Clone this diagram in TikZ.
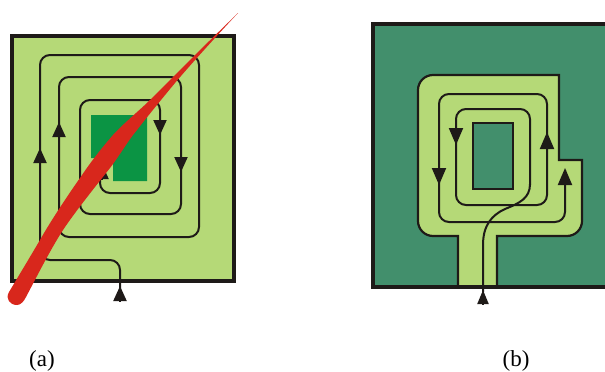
\documentclass[tikz,border=0pt]{standalone}
\usepackage{fontspec}
\setmainfont{Liberation Serif}
\usetikzlibrary{arrows.meta}
\definecolor{leaf}{HTML}{B5D977}
\definecolor{patch}{HTML}{0B9444}
\definecolor{pine}{HTML}{428F6C}
\definecolor{blade}{HTML}{D8271C}
\definecolor{ink}{HTML}{1E1A18}

\begin{document}
\begin{tikzpicture}[x=1pt, y=-1pt,
        board/.style = {draw=ink, line width=3.5pt, miter limit=10},
        trace/.style = {draw=ink, line width=2pt, rounded corners=10pt},
        flow/.style = {draw=ink, line width=2pt, -{Triangle[length=15pt, width=13pt]}},
        bigflow/.style = {draw=ink, line width=2pt, -{Triangle[length=17pt, width=14pt]}},
        caption/.style = {font=\fontsize{23}{27}\selectfont, text=black, anchor=base, inner sep=0pt}]
            \useasboundingbox (0,0) rectangle (605,372);
            \clip (0,0) rectangle (605,372);

            % panel a
            \path[board, fill=leaf] (12,36) rectangle (234,281);
            \fill[patch] (91,115) -- (147,115) -- (147,181) -- (113,181) -- (113,158) -- (91,158) -- cycle;
            \path[trace] (120,290) -- (120,260) -- (40,260) -- (40,55) -- (199,55) -- (199,237) -- (59,237)
                -- (59,77) -- (181,77) -- (181,214) -- (80,214) -- (80,100) -- (160,100) -- (160,193)
                -- (100,193) -- (100,172);
            \foreach \x/\from/\to in {40/163/148, 59/137/122, 181/157/172, 160/120/135, 102/179/164}
                \draw[flow] (\x,\from) -- (\x,\to);
            \draw[flow] (120,301) -- (120,286);
            \fill[blade] (238,13) -- (200,50) .. controls (185,65) and (165,85) .. (150,100)
                .. controls (140,110) and (125,122) .. (113,135)
                .. controls (100,150) and (90,163) .. (80,178)
                .. controls (70,192) and (50,222) .. (40,240)
                .. controls (30,257) and (18,277) .. (9,292)
                .. controls (5,299) and (10,305) .. (17,305)
                .. controls (21,305) and (24,301) .. (26,297)
                .. controls (34,282) and (50,250) .. (63,230)
                .. controls (75,212) and (95,187) .. (110,168)
                .. controls (120,155) and (127,142) .. (137,130)
                .. controls (143,122) and (165,95) .. (175,83)
                .. controls (185,71) and (210,43) .. (238,13) -- cycle;

            % panel b
            \path[board, fill=pine] (373,24) rectangle (615,287);
            \path[draw=ink, line width=2.2pt, fill=leaf] (458,287) -- (458,236) [rounded corners=15pt] -- (418,236)
                -- (418,75) [sharp corners] -- (559,75) -- (559,160) -- (582,160)
                [rounded corners=15pt] -- (582,236) [sharp corners] -- (497,236) -- (497,287) -- cycle;
            \path[draw=ink, line width=2.2pt, fill=pine] (473,123) rectangle (513,189);
            \draw[board] (373,287) -- (615,287);
            \path[trace] (565,170) -- (565,222) -- (439,222) -- (439,94) -- (547,94) -- (547,205) -- (456,205)
                -- (456,109) -- (530,109) -- (530,185);
            \draw[ink, line width=2pt] (530,184) .. controls (530,198) and (520,203) .. (505,209)
                .. controls (492,215) and (483,225) .. (483,245) -- (483,292);
            \foreach \x/\from/\to in {456/127/145, 439/168/185, 547/149/132, 565/186/168}
                \draw[bigflow] (\x,\from) -- (\x,\to);
            \draw[flow, -{Triangle[length=14pt, width=11pt]}] (483,304) -- (483,290);

            \node[caption] (A) at (42,366) {(a)};
            \node[caption] (B) at (516,366) {(b)};
        \end{tikzpicture}
\end{document}
